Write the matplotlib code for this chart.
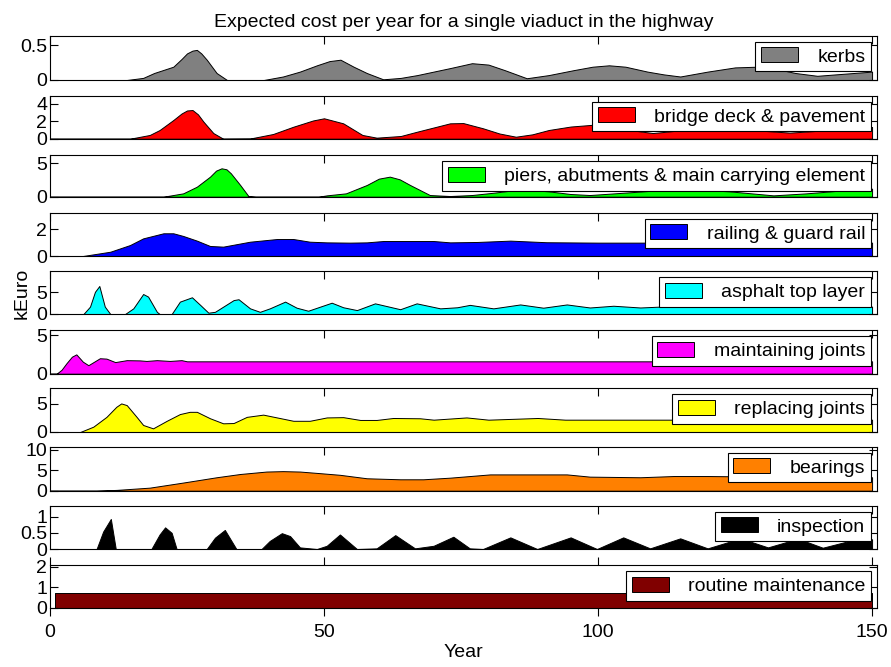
import numpy as np
import matplotlib
matplotlib.use('Agg')
import matplotlib.pyplot as plt

plt.rcParams['font.family'] = ['Liberation Sans', 'DejaVu Sans']
plt.rcParams['font.size'] = 14

# ---- data ----
kerbs_years = [0, 14, 17, 19, 22.5, 24, 25, 26, 26.8, 27.6, 28.6, 30.4, 32.3, 39, 42.5, 45.6, 48.7,
               51, 53, 55.4, 57.8, 60.8, 64, 67, 70, 73, 77, 80, 83, 87, 91, 95.5, 99, 102, 105,
               109, 112, 115, 120, 125, 129, 133, 136, 140, 145, 150]
kerbs_cost = [0, 0, 0.03, 0.1, 0.19, 0.3, 0.38, 0.42, 0.43, 0.38, 0.29, 0.1, 0, 0, 0.05, 0.12, 0.21,
              0.27, 0.29, 0.19, 0.1, 0.01, 0.03, 0.07, 0.12, 0.17, 0.24, 0.22, 0.14, 0.025, 0.07,
              0.14, 0.19, 0.21, 0.19, 0.12, 0.08, 0.05, 0.12, 0.18, 0.19, 0.15, 0.1, 0.06, 0.09, 0.12]

deck_years = [0, 14.6, 18.2, 20, 22.5, 24, 25, 26, 27, 28, 29.8, 31.6, 36.5, 40.7, 44.4, 48, 50,
              53.5, 57, 59.6, 64, 67, 73, 75.4, 79, 82, 85, 88, 91, 95, 99, 103, 107, 110, 114, 119,
              123, 128, 135, 140, 145, 150]
deck_cost = [0, 0, 0.43, 1.0, 2.15, 2.9, 3.25, 3.3, 2.8, 1.96, 0.65, 0, 0.02, 0.54, 1.38, 2.1, 2.35,
             1.77, 0.43, 0.12, 0.31, 0.81, 1.77, 1.8, 1.2, 0.6, 0.23, 0.5, 1.0, 1.4, 1.6, 1.4, 0.9,
             0.65, 0.9, 1.2, 1.25, 1.0, 0.7, 0.9, 1.2, 1.35]

piers_years = [0, 20.7, 24.3, 26.8, 29.2, 30.3, 31.3, 32.2, 33, 34.7, 36.2, 37.5, 49, 50.5, 54, 57.8,
               60, 62, 63.8, 65.7, 69.3, 73, 77, 81, 86, 91, 95, 98.5, 103, 110, 117, 124, 132, 138,
               144, 150]
piers_cost = [0, 0, 0.5, 1.5, 3.0, 3.9, 4.25, 4.1, 3.5, 1.75, 0.1, 0, 0, 0.2, 0.5, 1.75, 2.7, 3.0,
              2.6, 1.75, 0.25, 0.1, 0.25, 0.6, 1.1, 0.8, 0.4, 0.25, 0.5, 0.9, 1.1, 0.8, 0.2, 0.5,
              0.9, 1.2]

railing_years = [0, 6, 11, 14.6, 17, 20.7, 22.5, 24.3, 26.8, 29.2, 31.6, 36.5, 41.4, 44.4, 47.4, 50.5,
                 54.7, 57.8, 60.8, 70, 73, 78, 84, 90.6, 100, 120, 150]
railing_cost = [0, 0, 0.32, 0.82, 1.32, 1.7, 1.7, 1.5, 1.15, 0.75, 0.7, 1.07, 1.27, 1.27, 1.07, 1.02,
                1.0, 1.02, 1.12, 1.12, 1.02, 1.05, 1.15, 1.03, 1.0, 1.0, 1.0]

asphalt_years = [0, 6.1, 7.3, 8.2, 9, 10, 11, 13.7, 15.2, 17, 17.9, 19.5, 20, 22.2, 23.7, 25.9, 27.4,
                 28.9, 30.1, 33.5, 34.4, 36.5, 38.3, 40.1, 42.9, 45, 47.1, 49.3, 51.4, 53.5, 56, 59.3,
                 63.9, 66.9, 71.2, 74.3, 76.6, 80.9, 85.8, 90, 94.3, 98.5, 102.8, 107.7, 115, 125,
                 135, 150]
asphalt_cost = [0, 0, 1.7, 5.1, 6.45, 1.7, 0, 0, 1.3, 4.6, 4.0, 0.5, 0, 0, 2.85, 3.85, 2.1, 0.3, 0.5,
                3.2, 3.4, 1.3, 0.5, 1.3, 2.85, 1.45, 0.75, 1.7, 2.6, 1.55, 0.9, 2.45, 1.1, 2.45, 1.3,
                1.55, 2.1, 1.3, 2.2, 1.45, 2.2, 1.5, 1.9, 1.5, 1.9, 1.7, 1.8, 1.7]

mjoints_years = [0, 1.2, 2.1, 3, 4, 4.8, 6, 7, 9.1, 10.3, 11.9, 14, 16.4, 17.6, 19.5, 21.9, 24, 25, 150]
mjoints_cost = [0, 0, 0.5, 1.35, 2.2, 2.5, 1.55, 1.1, 2.0, 1.95, 1.5, 1.75, 1.72, 1.65, 1.75, 1.65,
                1.75, 1.6, 1.6]

rjoints_years = [0, 5.5, 7.9, 10.3, 12.1, 13, 14, 15.8, 17, 18.8, 21.3, 23.7, 25.5, 26.8, 29.2, 31.6,
                 33.5, 35.9, 38.9, 41.4, 44.4, 47.4, 50.5, 53.5, 56.6, 59.6, 62.6, 67.5, 70, 76, 80,
                 89, 94, 150]
rjoints_cost = [0, 0, 0.95, 2.7, 4.5, 5.1, 4.8, 2.7, 1.25, 0.65, 2.0, 3.2, 3.6, 3.6, 2.45, 1.55, 1.6,
                2.7, 3.1, 2.6, 2.0, 2.0, 2.6, 2.65, 2.15, 2.15, 2.5, 2.45, 2.2, 2.6, 2.2, 2.5, 2.2, 2.2]

bearings_years = [0, 8.5, 12.2, 18.2, 24.3, 30.4, 34.7, 39.5, 42.5, 45.6, 49.3, 52.9, 57.8, 63.9, 68.1,
                  73, 80.3, 94.3, 98.5, 107.7, 113.8, 120, 135, 150]
bearings_cost = [0, 0, 0.2, 0.75, 2.0, 3.3, 4.1, 4.7, 4.8, 4.7, 4.3, 3.9, 3.05, 2.8, 2.8, 3.2, 4.0,
                 4.0, 3.45, 3.3, 3.6, 3.6, 3.4, 3.3]

inspection_years = [0, 8.5, 9.7, 11.1, 12, 18.5, 20, 21, 22.2, 23.1, 28.6, 30.1, 31.9, 34, 38.6, 40.1,
                    42.3, 43.8, 45.6, 48.7, 50.5, 52.9, 56, 59.6, 63, 66.6, 70, 73.6, 76.6, 79, 84,
                    88.9, 95, 99.8, 104.6, 109.5, 115, 120, 126, 131, 136.5, 141, 147, 150]
inspection_cost = [0, 0, 0.54, 0.93, 0, 0, 0.45, 0.67, 0.5, 0, 0, 0.35, 0.59, 0, 0, 0.25, 0.49, 0.4,
                   0.05, 0, 0.1, 0.45, 0, 0.02, 0.43, 0.02, 0.1, 0.38, 0.02, 0, 0.36, 0, 0.36, 0, 0.36,
                   0.02, 0.33, 0.02, 0.33, 0.05, 0.32, 0.04, 0.3, 0.3]

routine_years = [0, 0.9, 0.9, 150]
routine_cost = [0, 0, 0.7, 0.7]

labels = ['kerbs', 'bridge deck & pavement', 'piers, abutments & main carrying element',
          'railing & guard rail', 'asphalt top layer', 'maintaining joints', 'replacing joints',
          'bearings', 'inspection', 'routine maintenance']
series = [(kerbs_years, kerbs_cost), (deck_years, deck_cost), (piers_years, piers_cost),
          (railing_years, railing_cost), (asphalt_years, asphalt_cost),
          (mjoints_years, mjoints_cost), (rjoints_years, rjoints_cost),
          (bearings_years, bearings_cost), (inspection_years, inspection_cost),
          (routine_years, routine_cost)]
colors = ['#808080', '#ff0000', '#00ff00', '#0000ff', '#00ffff', '#ff00ff', '#ffff00',
          '#ff8000', '#000000', '#800000']
ytops = [0.633, 4.95, 6.24, 3.24, 9.9, 5.65, 7.8, 10.8, 1.34, 2.08]
yticks = [[0, 0.5], [0, 2, 4], [0, 5], [0, 2], [0, 5], [0, 5], [0, 5], [0, 5, 10],
          [0, 0.5, 1], [0, 1, 2]]
yticklabels = [['0', '0.5'], ['0', '2', '4'], ['0', '5'], ['0', '2'], ['0', '5'], ['0', '5'],
               ['0', '5'], ['0', '5', '10'], ['0', '0.5', '1'], ['0', '1', '2']]

# panel top / bottom in pixels (891x667 figure)
W, H = 891, 667
panel_px = [(35.7, 80), (95.7, 138.7), (155, 196.7), (212.7, 256), (271, 314),
            (330, 373.7), (388.3, 432), (446.7, 490.7), (505.7, 549), (565, 607.7)]
x0, x1 = 50, 877

fig = plt.figure(figsize=(W / 100, H / 100), dpi=100)

for i in range(10):
    top, bot = panel_px[i]
    ax = fig.add_axes([x0 / W, 1 - bot / H, (x1 - x0) / W, (bot - top) / H])
    yrs, cost = series[i]
    ax.fill_between(yrs, cost, 0, facecolor=colors[i], edgecolor='black',
                    linewidth=0.7, label=labels[i])
    ax.set_xlim(0, 150.9)
    ax.set_ylim(0, ytops[i])
    ax.set_xticks([0, 50, 100, 150])
    ax.set_yticks(yticks[i])
    ax.set_yticklabels(yticklabels[i])
    for s in ax.spines.values():
        s.set_linewidth(0.8)
    ax.tick_params(axis='y', direction='in', left=True, right=True, length=6,
                   width=0.8, labelsize=14, pad=2)
    last = (i == 9)
    ax.tick_params(axis='x', direction='out' if last else 'in', top=True, bottom=last,
                   labelbottom=last, length=6, width=0.8, labelsize=14, pad=6)
    leg = ax.legend(loc='upper right', fontsize=14, fancybox=False, framealpha=1,
                    edgecolor='black', borderaxespad=0.3, borderpad=0.3,
                    handlelength=1.9, handleheight=0.8, handletextpad=1.0)
    leg.get_frame().set_linewidth(0.8)
    if i == 0:
        ax.set_title('Expected cost per year for a single viaduct in the highway',
                     fontsize=14, pad=6)
    if last:
        ax.set_xlabel('Year', fontsize=14, labelpad=2)

fig.text(22 / W, 1 - 293 / H, 'kEuro', rotation=90, ha='center', va='center', fontsize=14)

fig.savefig('out.png', dpi=100)
